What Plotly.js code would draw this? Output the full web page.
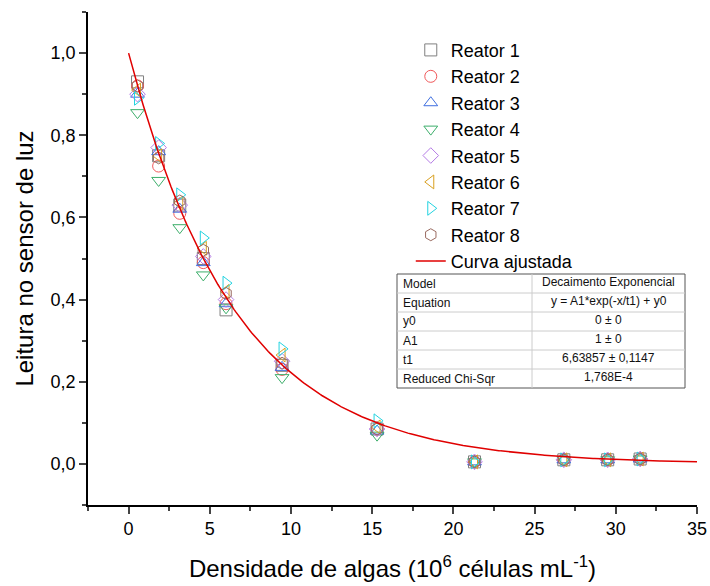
<!DOCTYPE html>
<html>
<head>
<meta charset="utf-8">
<script src="https://cdn.plot.ly/plotly-3.0.1.min.js"></script>
<style>body{margin:0}#chart{width:710px;height:586px}</style>
</head>
<body>
<div id="chart"></div>
<script>
// densidade de algas (10^6 celulas/mL)
const xDens = [0.55, 1.85, 3.15, 4.6, 6.0, 9.45, 15.3, 21.3, 26.8, 29.5, 31.5]

const reator1 = [0.93, 0.75, 0.63, 0.50, 0.375, 0.24, 0.085, 0.005, 0.01, 0.01, 0.012]
const reator2 = [0.92, 0.725, 0.61, 0.49, 0.39, 0.23, 0.085, 0.005, 0.01, 0.01, 0.012]
const reator3 = [0.90, 0.76, 0.62, 0.49, 0.39, 0.235, 0.08, 0.005, 0.01, 0.01, 0.012]
const reator4 = [0.855, 0.69, 0.575, 0.46, 0.38, 0.21, 0.07, 0.005, 0.01, 0.01, 0.012]
const reator5 = [0.90, 0.77, 0.63, 0.505, 0.40, 0.25, 0.085, 0.005, 0.01, 0.01, 0.012]
const reator6 = [0.91, 0.75, 0.635, 0.525, 0.42, 0.265, 0.09, 0.005, 0.01, 0.01, 0.012]
const reator7 = [0.89, 0.78, 0.655, 0.55, 0.44, 0.28, 0.105, 0.005, 0.01, 0.01, 0.012]
const reator8 = [0.92, 0.745, 0.64, 0.52, 0.415, 0.245, 0.085, 0.005, 0.01, 0.01, 0.012]

// parametros do ajuste (tabela)
const fitY0 = 0
const fitA1 = 1
const fitT1 = 6.63857

const tableRows = [
  ['Model', 'Decaimento Exponencial'],
  ['Equation', 'y = A1*exp(-x/t1) + y0'],
  ['y0', '0 ± 0'],
  ['A1', '1 ± 0'],
  ['t1', '6,63857 ± 0,1147'],
  ['Reduced Chi-Sqr', '1,768E-4']
]

const series = [reator1, reator2, reator3, reator4, reator5, reator6, reator7, reator8]
const symbols = ['square-open', 'circle-open', 'triangle-up-open', 'triangle-down-open',
  'diamond-open', 'triangle-left-open', 'triangle-right-open', 'hexagon-open']
const colors = ['#7f7f7f', '#f0585a', '#3f6fe0', '#3cae6a', '#b57ce6', '#d9a020', '#22d3e0', '#9a6a60']

var data = series.map(function (ys, i) {
  return {
    x: xDens, y: ys, type: 'scatter', mode: 'markers', name: 'Reator ' + (i + 1),
    marker: { symbol: symbols[i], size: 12, color: colors[i], line: { width: 1 } }
  }
})

const curveX = []
const curveY = []
for (let k = 0; k <= 350; k++) {
  const xv = k * 0.1
  curveX.push(xv)
  curveY.push(fitA1 * Math.exp(-xv / fitT1) + fitY0)
}
data.push({
  x: curveX, y: curveY, type: 'scatter', mode: 'lines', name: 'Curva ajustada',
  line: { color: '#e00000', width: 1.5 }
})

// tabela desenhada em coordenadas de pixel
const L = 88, T = 12, W = 609, H = 493
const px = function (v) { return (v - L) / W }
const py = function (v) { return (T + H - v) / H }
const tx0 = 397, tx1 = 685, tcol = 532, ty0 = 274, rowH = 19
const shapes = [{
  type: 'rect', xref: 'paper', yref: 'paper', x0: px(tx0), x1: px(tx1), y0: py(ty0), y1: py(ty0 + rowH * 6),
  line: { color: '#555', width: 1 }, fillcolor: 'white', layer: 'above'
}, {
  type: 'line', xref: 'paper', yref: 'paper', x0: px(tcol), x1: px(tcol), y0: py(ty0), y1: py(ty0 + rowH * 6),
  line: { color: '#ccc', width: 1 }, layer: 'above'
}]
const annotations = []
tableRows.forEach(function (r, i) {
  if (i > 0) {
    shapes.push({
      type: 'line', xref: 'paper', yref: 'paper', x0: px(tx0), x1: px(tx1), y0: py(ty0 + rowH * i), y1: py(ty0 + rowH * i),
      line: { color: '#ccc', width: 1 }, layer: 'above'
    })
  }
  const yc = py(ty0 + rowH * i + rowH / 2)
  annotations.push({ xref: 'paper', yref: 'paper', x: px(tx0 + 4), y: yc, text: r[0], showarrow: false, xanchor: 'left', yanchor: 'middle', font: { size: 12, color: '#111' } })
  annotations.push({ xref: 'paper', yref: 'paper', x: px((tcol + tx1) / 2), y: yc + 0.004, text: r[1], showarrow: false, xanchor: 'center', yanchor: 'middle', font: { size: 12, color: '#111' } })
})

var layout = {
  width: 710, height: 586,
  margin: { l: L, r: 710 - L - W, t: T, b: 586 - T - H },
  font: { family: 'Liberation Sans, Arial, sans-serif', color: '#000' },
  separators: ',.',
  paper_bgcolor: 'white', plot_bgcolor: 'white',
  showlegend: true,
  legend: { x: 0.53, y: 0.96, xanchor: 'left', yanchor: 'top', font: { size: 18 }, bgcolor: 'rgba(0,0,0,0)', tracegroupgap: 0 },
  xaxis: {
    range: [-2.5, 35], tickvals: [0, 5, 10, 15, 20, 25, 30, 35], ticks: 'outside', ticklen: 7, tickwidth: 1.5,
    minor: { dtick: 2.5, ticks: 'outside', ticklen: 4, tickwidth: 1.5 },
    showgrid: false, zeroline: false, showline: true, linecolor: '#000', linewidth: 1.5,
    tickfont: { size: 18 },
    title: { text: 'Densidade de algas (10<sup>6</sup> células mL<sup>-1</sup>)', font: { size: 24 }, standoff: 22 }
  },
  yaxis: {
    range: [-0.1, 1.1], tickvals: [0, 0.2, 0.4, 0.6, 0.8, 1.0], tickformat: '.1f', ticks: 'outside', ticklen: 7, tickwidth: 1.5,
    minor: { dtick: 0.1, ticks: 'outside', ticklen: 4, tickwidth: 1.5 },
    showgrid: false, zeroline: false, showline: true, linecolor: '#000', linewidth: 1.5,
    tickfont: { size: 18 },
    title: { text: 'Leitura no sensor de luz', font: { size: 24 }, standoff: 10 }
  },
  shapes: shapes,
  annotations: annotations
}

Plotly.newPlot('chart', data, layout, { displayModeBar: false })
</script>
</body>
</html>
